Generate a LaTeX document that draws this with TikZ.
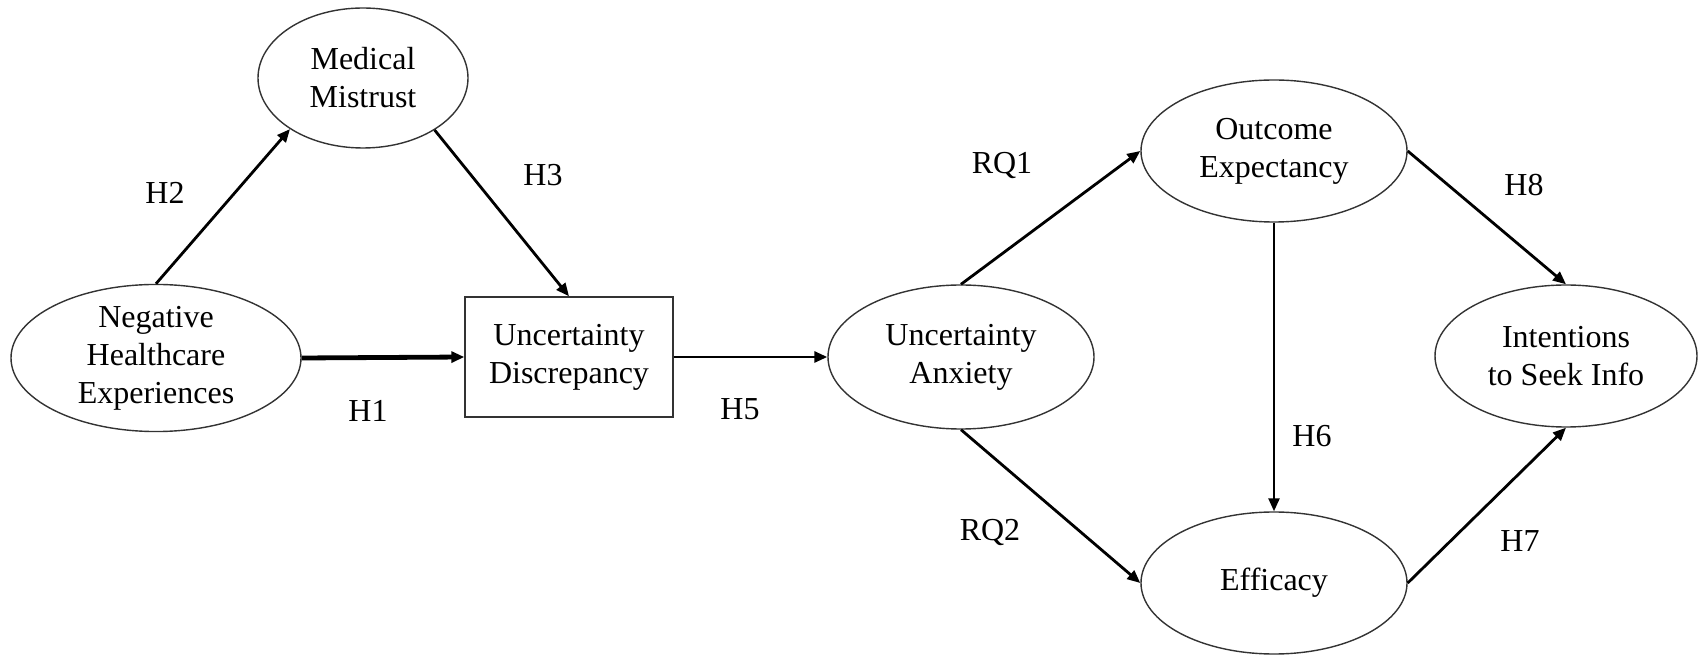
\documentclass[tikz,border=0pt]{standalone}
\usepackage{fontspec}
\setmainfont{Liberation Serif}
\usetikzlibrary{arrows.meta,shapes.geometric}
\begin{document}
\begin{tikzpicture}[x=0.5pt,y=-0.5pt,
  every node/.style={font=\fontsize{16}{19}\selectfont},
  ell/.style={ellipse,draw=black!80,line width=0.7pt,align=center,inner sep=0pt},
  boxnode/.style={rectangle,draw=black!80,line width=0.7pt,align=center,inner sep=0pt,minimum width=104pt,minimum height=60pt},
  conn/.style={line width=1.4pt,-{Triangle[length=6.5pt,width=5.5pt]}},
  lab/.style={inner sep=0pt}]
\useasboundingbox (0,0) rectangle (1698,657);
\node[ell,minimum width=145pt,minimum height=73pt] (neg) at (156,358) {Negative\\Healthcare\\Experiences};
\node[ell,minimum width=105pt,minimum height=70pt] (med) at (363,78) {Medical\\Mistrust};
\node[boxnode] (disc) at (569,357) {Uncertainty\\Discrepancy};
\node[ell,minimum width=133pt,minimum height=72pt] (anx) at (961,357) {Uncertainty\\Anxiety};
\node[ell,minimum width=133pt,minimum height=71pt] (out) at (1274,151) {Outcome\\Expectancy};
\node[ell,minimum width=133pt,minimum height=71pt] (eff) at (1274,583) {Efficacy};
\node[ell,minimum width=131pt,minimum height=71pt] (int) at (1566,356) {Intentions\\to Seek Info};

\draw[conn] (neg.north) -- (med.215);
\draw[conn] (med.324) -- (disc.north);
\draw[conn,line width=2.4pt] (neg.east) -- (disc.west);
\draw[conn] (disc.east) -- (anx.west);
\draw[conn] (anx.north) -- (out.west);
\draw[conn] (anx.south) -- (eff.west);
\draw[conn,line width=1.2pt] (out.south) -- (eff.north);
\draw[conn] (out.east) -- (int.north);
\draw[conn] (eff.east) -- (int.south);

\node[lab] (h2) at (165,193) {H2};
\node[lab] (h3) at (543,175) {H3};
\node[lab] (h1) at (368,411) {H1};
\node[lab] (h5) at (740,409) {H5};
\node[lab] (rq1) at (1002,166) {RQ1};
\node[lab] (rq2) at (990,532) {RQ2};
\node[lab] (h8) at (1524,185) {H8};
\node[lab] (h6) at (1312,436) {H6};
\node[lab] (h7) at (1520,541) {H7};
\end{tikzpicture}
\end{document}
